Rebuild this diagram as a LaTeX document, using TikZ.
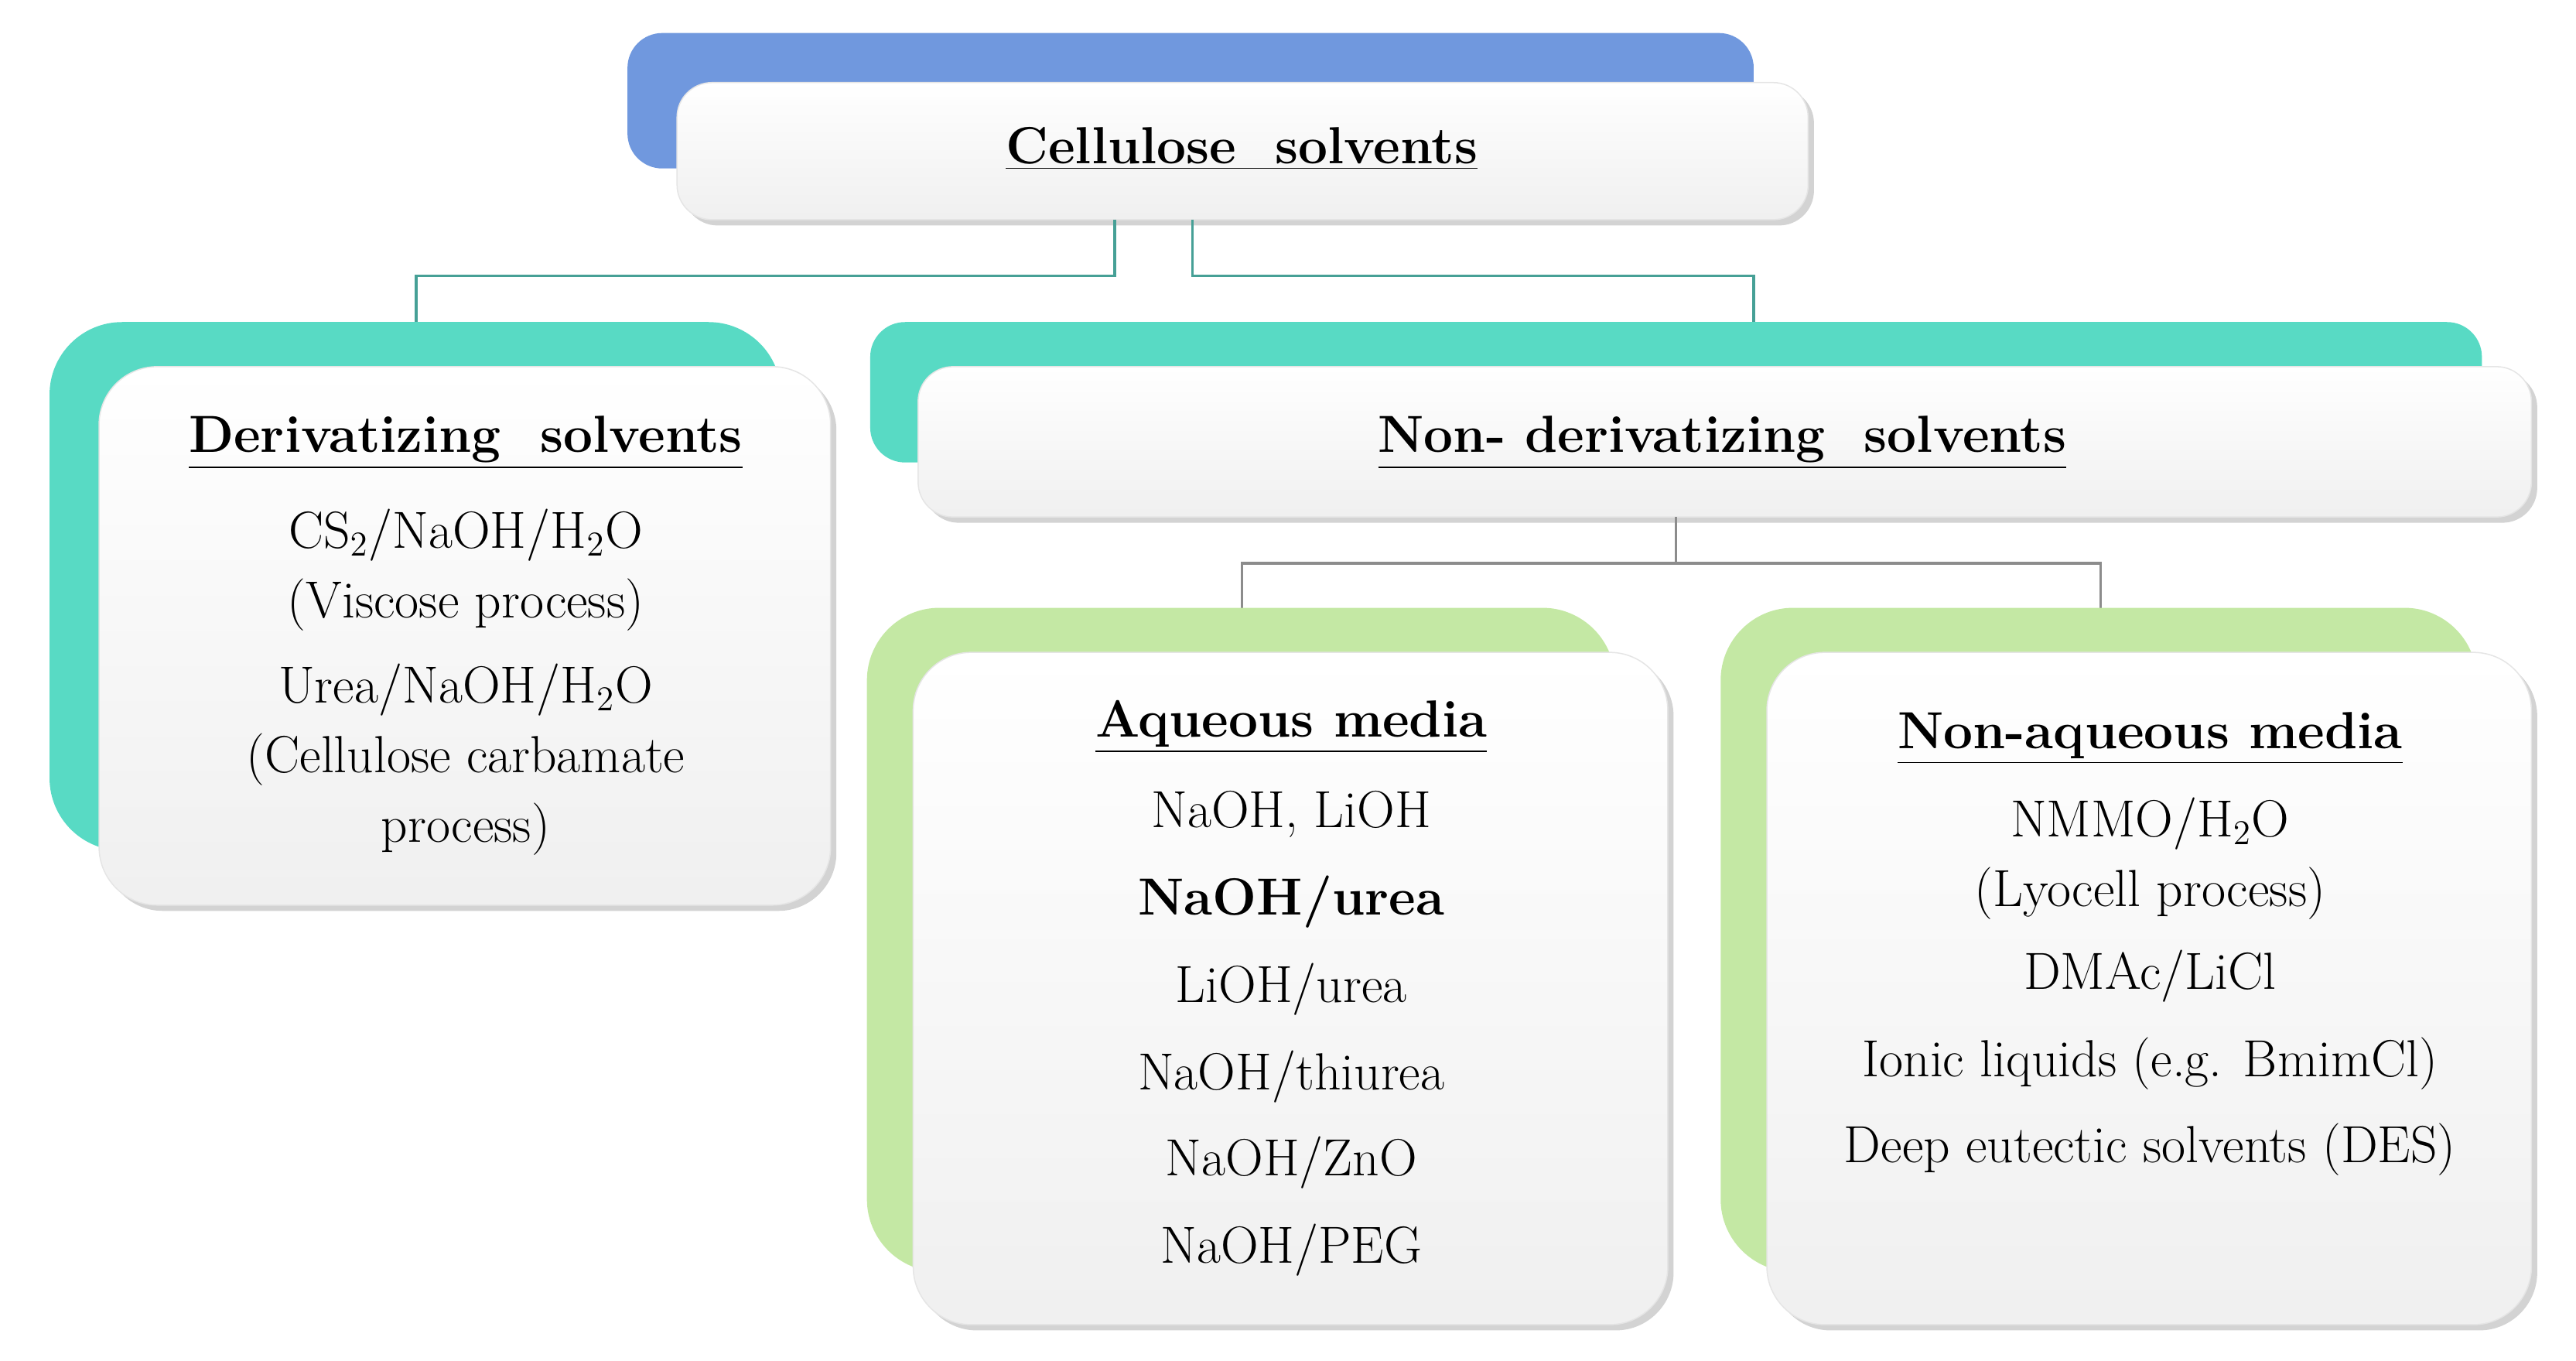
\documentclass[tikz,border=0pt]{standalone}
\usetikzlibrary{shadows}
\definecolor{bback}{RGB}{112,152,222}
\definecolor{tback}{RGB}{88,218,196}
\definecolor{gback}{RGB}{196,232,164}
\definecolor{tline}{RGB}{70,160,150}
\definecolor{gline}{RGB}{140,140,140}
\tikzset{
 back/.style={rounded corners=12pt},
 front/.style={rounded corners=12pt, top color=white, bottom color=black!6, draw=black!10, drop shadow={opacity=0.35,shadow xshift=2pt,shadow yshift=-2pt}},
 txt/.style={font=\fontsize{18}{22}\selectfont, align=center, inner sep=0pt},
 conn/.style={line width=0.9pt}
}
\begin{document}
\begin{tikzpicture}[x=0.02cm,y=-0.02cm]
\useasboundingbox (0,0) rectangle (1560,824);
% top
\fill[bback, back] (380,20) rectangle (1062,102);
\path[front] (410,50) rectangle (1095,133);
\node[txt] (top) at (752,90) {\textbf{\underline{Cellulose\ \ solvents}}};
% connectors top
\coordinate (c1) at (675,133); \coordinate (c2) at (722,133);
\coordinate (d1) at (252,195); \coordinate (n1) at (1062,195);
\draw[conn, tline] (c1) -- (675,167) -| (d1);
\draw[conn, tline] (c2) -- (722,167) -| (n1);
% derivatizing
\fill[tback, back, rounded corners=25pt] (30,195) rectangle (473,515);
\path[front, rounded corners=20pt] (60,222) rectangle (503,548);
\node[txt] (dh) at (282,268) {\textbf{\underline{Derivatizing\ \ solvents}}};
\node[txt] (d1t) at (282,345) {CS$_2$/NaOH/H$_2$O\\[2pt](Viscose process)};
\node[txt] (d2t) at (282,460) {Urea/NaOH/H$_2$O\\[2pt](Cellulose carbamate\\[2pt]process)};
% non-derivatizing
\fill[tback, back] (527,195) rectangle (1503,280);
\path[front] (556,222) rectangle (1533,313);
\node[txt] (nh) at (1043,268) {\textbf{\underline{Non- derivatizing\ \ solvents}}};
\coordinate (m0) at (1015,313); \coordinate (a0) at (752,368); \coordinate (b0) at (1272,368);
\draw[conn, gline] (m0) -- (1015,341) -| (a0);
\draw[conn, gline] (1015,341) -| (b0);
% aqueous
\fill[gback, rounded corners=25pt] (525,368) rectangle (978,770);
\path[front, rounded corners=20pt] (553,395) rectangle (1010,802);
\node[txt] (ah) at (782,440) {\textbf{\underline{Aqueous media}}};
\node[txt] (a1) at (782,493) {NaOH, LiOH};
\node[txt] (a2) at (782,546) {\textbf{NaOH/urea}};
\node[txt] (a3) at (782,599) {LiOH/urea};
\node[txt] (a4) at (782,652) {NaOH/thiurea};
\node[txt] (a5) at (782,704) {NaOH/ZnO};
\node[txt] (a6) at (782,757) {NaOH/PEG};
% non-aqueous
\fill[gback, rounded corners=25pt] (1042,368) rectangle (1500,770);
\path[front, rounded corners=20pt] (1070,395) rectangle (1533,802);
\node[txt] (bh) at (1302,447) {\textbf{\underline{Non-aqueous media}}};
\node[txt] (b1) at (1302,520) {NMMO/H$_2$O\\[2pt](Lyocell process)};
\node[txt] (b2) at (1302,591) {DMAc/LiCl};
\node[txt] (b3) at (1302,644) {Ionic liquids (e.g. BmimCl)};
\node[txt] (b4) at (1302,696) {Deep eutectic solvents (DES)};
\end{tikzpicture}
\end{document}
